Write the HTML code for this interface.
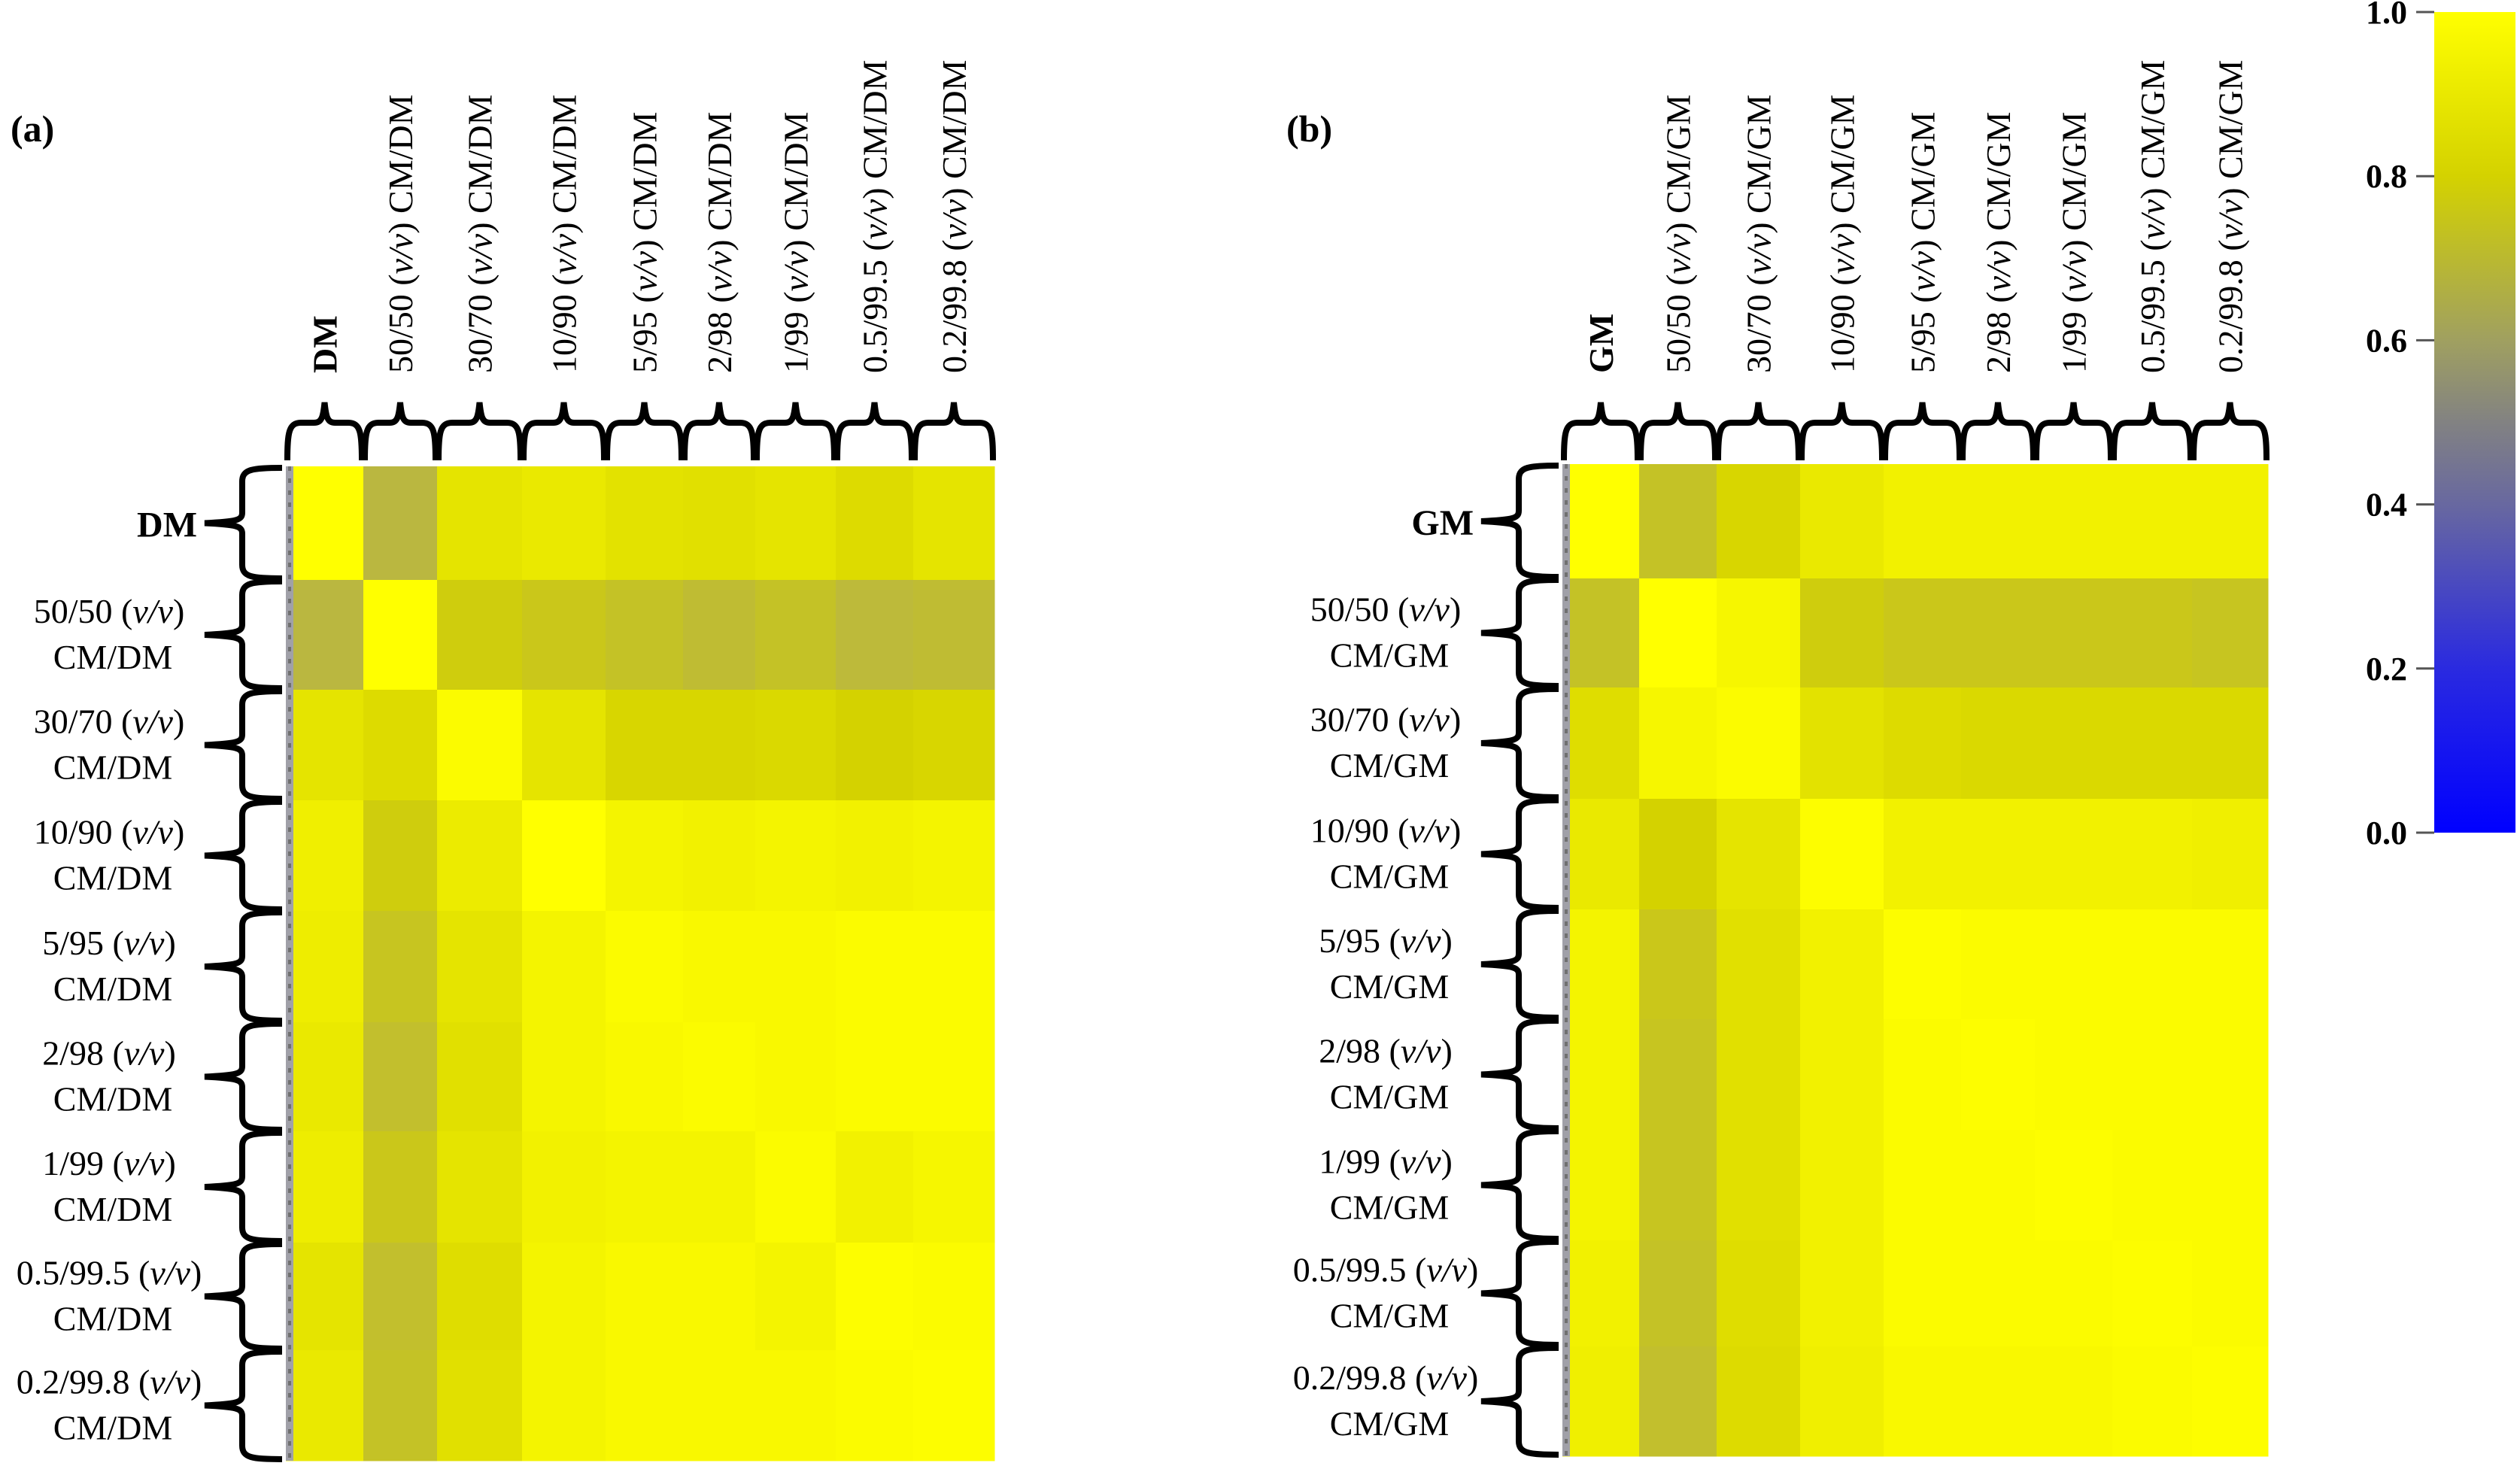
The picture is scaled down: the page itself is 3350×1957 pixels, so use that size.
<!DOCTYPE html>
<html><head><meta charset="utf-8"><style>
html,body{margin:0;padding:0;background:#fff;}
svg{display:block;font-family:"Liberation Serif",serif;}
</style></head><body>
<svg id="fig" width="3350" height="1957" viewBox="0 0 3350 1957" xmlns="http://www.w3.org/2000/svg">
<defs>
<linearGradient id="cbar" x1="0" y1="1" x2="0" y2="0">
<stop offset="0" stop-color="#0000ff"/><stop offset="0.2" stop-color="#2a2ae0"/>
<stop offset="0.4" stop-color="#6868a0"/><stop offset="0.5" stop-color="#828282"/>
<stop offset="0.6" stop-color="#a0a060"/><stop offset="0.8" stop-color="#d4d200"/>
<stop offset="1" stop-color="#ffff00"/></linearGradient>
</defs>
<text x="14" y="188" font-size="50" font-weight="bold">(a)</text>
<text x="1710" y="188" font-size="50" font-weight="bold">(b)</text>
<g>
<rect x="3236" y="16" width="108" height="1091" fill="url(#cbar)"/>
</g>
</svg>
<script>
const samplesA = ["DM","50/50","30/70","10/90","5/95","2/98","1/99","0.5/99.5","0.2/99.8"];
const samplesB = ["GM","50/50","30/70","10/90","5/95","2/98","1/99","0.5/99.5","0.2/99.8"];
const cbTicks = [0,0.2,0.4,0.6,0.8,1.0];
const valuesA = [
[1.00,0.70,0.88,0.90,0.87,0.86,0.88,0.84,0.88],
[0.70,1.00,0.78,0.76,0.74,0.72,0.74,0.71,0.72],
[0.88,0.84,0.98,0.88,0.82,0.82,0.83,0.80,0.82],
[0.93,0.78,0.91,1.00,0.95,0.94,0.95,0.94,0.95],
[0.92,0.75,0.88,0.95,0.98,0.97,0.97,0.98,0.98],
[0.90,0.73,0.86,0.95,0.97,0.98,0.97,0.98,0.98],
[0.92,0.76,0.88,0.94,0.95,0.95,0.98,0.94,0.96],
[0.88,0.73,0.85,0.95,0.97,0.97,0.95,0.99,0.98],
[0.90,0.74,0.86,0.95,0.97,0.97,0.97,0.98,0.99]];
const valuesB = [
[1.00,0.74,0.82,0.90,0.94,0.94,0.94,0.94,0.94],
[0.74,1.00,0.96,0.78,0.76,0.76,0.76,0.76,0.75],
[0.85,0.96,0.98,0.87,0.84,0.83,0.83,0.83,0.83],
[0.90,0.80,0.88,0.99,0.94,0.94,0.94,0.94,0.93],
[0.95,0.76,0.86,0.94,0.99,0.98,0.98,0.98,0.98],
[0.95,0.75,0.86,0.94,0.98,0.99,0.98,0.98,0.98],
[0.95,0.75,0.86,0.94,0.98,0.98,0.99,0.98,0.98],
[0.94,0.74,0.85,0.94,0.98,0.98,0.98,0.99,0.98],
[0.93,0.73,0.84,0.93,0.97,0.97,0.97,0.98,0.99]];

const NS="http://www.w3.org/2000/svg";
const svg=document.getElementById('fig');
function mk(t,a,p){const e=document.createElementNS(NS,t);for(const k in a)e.setAttribute(k,a[k]);(p||svg).appendChild(e);return e;}
const stops=[[0,[0,0,255]],[0.2,[42,42,224]],[0.4,[104,104,160]],[0.5,[130,130,130]],[0.6,[160,160,96]],[0.7,[186,183,64]],[0.8,[212,210,0]],[1,[255,255,0]]];
function color(v){v=Math.max(0,Math.min(1,v));for(let i=1;i<stops.length;i++){if(v<=stops[i][0]){const a=stops[i-1],b=stops[i];const t=(v-a[0])/(b[0]-a[0]);const c=a[1].map((x,j)=>Math.round(x+(b[1][j]-x)*t));return `rgb(${c[0]},${c[1]},${c[2]})`;}}return 'rgb(255,255,0)';}

function panel(id,samples,vals,colB,rowB,suffix){
  const g=mk('g',{});
  
  
  const x0=colB[0],x1=colB[colB.length-1],y0=rowB[0],y1=rowB[rowB.length-1];
  for(let r=0;r<samples.length;r++)for(let c=0;c<samples.length;c++){
    const cell=mk('rect',{x:colB[c],y:rowB[r],width:colB[c+1]-colB[c]+0.5,height:rowB[r+1]-rowB[r]+0.5,fill:color(vals[r][c])},g);
    
    
  }
  const strip=mk('rect',{x:x0,y:y0,width:10,height:y1-y0,fill:'#a0a0a8'},g);
  
  
  mk('line',{x1:x0+5,y1:y0,x2:x0+5,y2:y1,stroke:'#707070','stroke-width':4,'stroke-dasharray':'6 10'},g);
  for(let c=0;c<samples.length;c++){
    const a=colB[c]+2,b=colB[c+1]-2,m=(a+b)/2;
    const p=mk('path',{d:`M${a},612 C${a},575 ${a+2},562 ${a+18},562 L${m-14},562 C${m-4},562 ${m-2},555 ${m},535 C${m+2},555 ${m+4},562 ${m+14},562 L${b-18},562 C${b-2},562 ${b},575 ${b},612`,fill:'none',stroke:'#000','stroke-width':8},g);
    
    
    const t=mk('text',{transform:`translate(${m+16},496) rotate(-90)`,'font-size':46,'text-anchor':'start'},g);
    
    
    if(c===0){t.setAttribute('font-weight','bold');t.textContent=samples[c];}
    else{t.appendChild(document.createTextNode(samples[c]+' ('));const it=mk('tspan',{'font-style':'italic'},t);it.textContent='v/v';t.appendChild(document.createTextNode(') CM/'+suffix));}
  }
  for(let r=0;r<samples.length;r++){
    const a=rowB[r]+2,b=rowB[r+1]-2,m=(a+b)/2;
    const p=mk('path',{d:`M${x0-5},${a} C${x0-45},${a} ${x0-58},${a+2} ${x0-58},${a+18} L${x0-58},${m-14} C${x0-58},${m-4} ${x0-65},${m-2} ${x0-108},${m} C${x0-65},${m+2} ${x0-58},${m+4} ${x0-58},${m+14} L${x0-58},${b-18} C${x0-58},${b-2} ${x0-45},${b} ${x0-5},${b}`,fill:'none',stroke:'#000','stroke-width':8},g);
    
    
    const cx=x0-235;
    if(r===0){
      const t=mk('text',{x:x0-118,y:m+18,'font-size':48,'font-weight':'bold','text-anchor':'end'},g);
      
      
      t.textContent=samples[r];
    } else {
      const t=mk('text',{x:cx,y:m-16,'font-size':46,'text-anchor':'middle'},g);
      
      
      t.appendChild(document.createTextNode(samples[r]+' ('));const it=mk('tspan',{'font-style':'italic'},t);it.textContent='v/v';t.appendChild(document.createTextNode(')'));
      const t2=mk('text',{x:cx+5,y:m+45,'font-size':46,'text-anchor':'middle'},g);
      
      
      t2.textContent='CM/'+suffix;
    }
  }
}
panel('a',samplesA,valuesA,[380,483,581,694,805,908,1004,1111,1214,1322],[620,771,917,1064,1211,1359,1504,1652,1795,1942],'DM');
panel('b',samplesB,valuesB,[2077,2179,2282,2393,2504,2607,2705,2808,2914,3015],[617,769,914,1062,1209,1355,1502,1649,1790,1936],'GM');

const cbY=v=>1107-v*(1107-16);
for(const v of cbTicks){
  const l=mk('line',{x1:3212,x2:3236,y1:cbY(v),y2:cbY(v),stroke:'#555','stroke-width':3});
  
  
  const t=mk('text',{x:3200,y:cbY(v)+15,'font-size':44,'font-weight':'bold','text-anchor':'end'});
  
  
  t.textContent=v.toFixed(1);
}
</script>
</body></html>
